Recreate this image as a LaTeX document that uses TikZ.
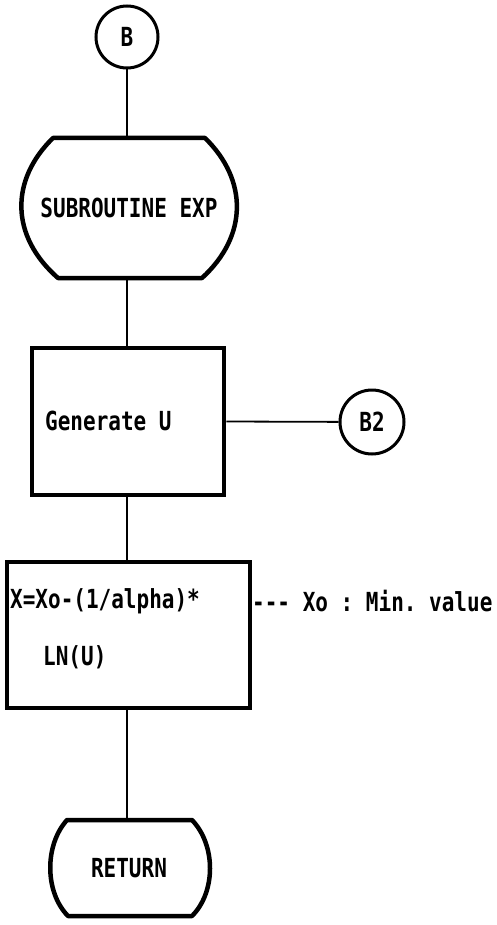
\documentclass[tikz,border=0pt]{standalone}
\usepackage{fontspec}
\setmonofont{DejaVu Sans Mono}
\newcommand{\tallt}[1]{\scalebox{1}[1.25]{#1}}
\begin{document}
\begin{tikzpicture}[x=1pt,y=-1pt,
  txt/.style={font=\ttfamily\bfseries\fontsize{21}{26}\selectfont, inner sep=0pt},
  conn/.style={line width=1.8pt},
  heavy/.style={line width=4.5pt},
  term/.style={line width=4.5pt, line join=round},
  conncirc/.style={circle, draw, line width=3pt, inner sep=0pt, txt}]
\useasboundingbox (0,0) rectangle (496,925);

% connectors' circles
\node[conncirc, minimum size=62pt] (B) at (127,37) {\tallt{B}};
\node[conncirc, minimum size=64pt] (B2) at (372,422) {\tallt{B2}};

% subroutine terminal
\node[minimum width=220pt, minimum height=140pt, inner sep=0pt, txt] (sub) at (129,208) {\tallt{SUBROUTINE EXP}};
\draw[term] (53,138) -- (205,138) .. controls (248,180) and (248,236) .. (202,278)
  -- (58,278) .. controls (10,236) and (10,180) .. (53,138) -- cycle;

% Generate U box
\node[draw, heavy, minimum width=192pt, minimum height=147pt, inner sep=0pt] (gen) at (128,421.5) {};
\node[txt, anchor=west] (genT) at (45,421) {\tallt{Generate U}};

% formula box
\node[draw, heavy, minimum width=243pt, minimum height=146pt, inner sep=0pt] (calc) at (128.5,635) {};
\node[txt, anchor=west] (calc1) at (10,601) {\tallt{X=Xo-(1/alpha)*}};
\node[txt, anchor=west] (calc2) at (43,657) {\tallt{LN(U)}};
\node[txt, anchor=west] (note) at (252,601) {\tallt{--- Xo : Min. value}};

% return terminal
\node[minimum width=160pt, minimum height=96pt, inner sep=0pt, txt] (ret) at (129,868) {\tallt{RETURN}};
\draw[term] (67,820) -- (192,820) .. controls (216,845) and (216,892) .. (192,916)
  -- (68,916) .. controls (44.5,892) and (44.5,845) .. (67,820) -- cycle;

% connectors
\draw[conn] (B) -- (B |- sub.north);
\draw[conn] (sub.south -| B) -- (B |- gen.north);
\draw[conn] (gen.east) -- (B2);
\draw[conn] (B |- gen.south) -- (B |- calc.north);
\draw[conn] (B |- calc.south) -- (B |- ret.north);
\end{tikzpicture}
\end{document}
